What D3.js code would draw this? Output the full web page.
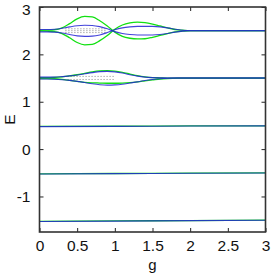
<!DOCTYPE html>
<html><head><meta charset="utf-8">
<script src="https://cdn.jsdelivr.net/npm/d3@7"></script>
<style>html,body{margin:0;padding:0;background:#fff;}svg{display:block;}</style>
</head><body>
<script>
// ---- data ----
const xTicks = [0, 0.5, 1, 1.5, 2, 2.5, 3];
const xTickLabels = ["0", "0.5", "1", "1.5", "2", "2.5", "3"];
const yTicks = [-1, 0, 1, 2, 3];
const yTickLabels = ["-1", "0", "1", "2", "3"];

const gGrid = [0,0.1,0.2,0.3,0.4,0.5,0.6,0.7,0.8,0.9,1.0,1.1,1.2,1.3,1.4,1.5,1.6,1.7,1.8,1.9,2.0,2.5,3.0];

// E ~ 2.5 group
const green25a = [2.505,2.51,2.52,2.56,2.65,2.75,2.80,2.79,2.71,2.60,2.47,2.38,2.34,2.325,2.33,2.36,2.40,2.44,2.475,2.49,2.50,2.50,2.50];
const green25b = [2.495,2.49,2.48,2.44,2.35,2.25,2.20,2.21,2.29,2.40,2.53,2.62,2.665,2.68,2.67,2.64,2.60,2.56,2.525,2.51,2.50,2.50,2.50];
const blue25a  = [2.525,2.525,2.53,2.55,2.58,2.605,2.615,2.61,2.585,2.54,2.48,2.44,2.42,2.41,2.41,2.41,2.42,2.44,2.47,2.49,2.50,2.50,2.50];
const blue25b  = [2.475,2.475,2.47,2.45,2.42,2.39,2.38,2.385,2.41,2.46,2.52,2.56,2.58,2.59,2.59,2.59,2.58,2.56,2.53,2.51,2.50,2.50,2.50];

// E ~ 1.5 group
const green15a = [1.51,1.51,1.515,1.525,1.545,1.57,1.60,1.63,1.65,1.655,1.645,1.62,1.585,1.55,1.525,1.51,1.505,1.50,1.50,1.50,1.50,1.50,1.50];
const blue15a  = [1.52,1.52,1.52,1.53,1.545,1.565,1.59,1.615,1.635,1.64,1.63,1.605,1.57,1.54,1.52,1.51,1.505,1.50,1.50,1.50,1.50,1.50,1.50];
const green15b = [1.49,1.49,1.485,1.47,1.45,1.43,1.41,1.40,1.395,1.39,1.39,1.395,1.405,1.42,1.44,1.46,1.48,1.49,1.495,1.50,1.50,1.50,1.50];
const blue15b  = [1.48,1.48,1.475,1.465,1.45,1.43,1.405,1.38,1.36,1.35,1.355,1.37,1.395,1.42,1.45,1.47,1.485,1.495,1.50,1.50,1.50,1.50,1.50];

// lower levels
const gLow = [0, 1, 2, 3];
const blue05  = [0.475, 0.48, 0.487, 0.49];
const green05 = [0.478, 0.483, 0.489, 0.492];
const blueM05  = [-0.525, -0.518, -0.51, -0.505];
const greenM05 = [-0.522, -0.515, -0.508, -0.503];
const blueM15  = [-1.528, -1.52, -1.51, -1.503];
const greenM15 = [-1.525, -1.517, -1.508, -1.501];

// dotted reference lines
const dot25g = [0.34, 0.88];
const dot25E = [2.54, 2.50, 2.46];
const dot15g = [0.37, 1.0];
const dot15E = [1.535, 1.47];

// ---- drawing ----
const W = 274, H = 274;
const svg = d3.select("body").append("svg").attr("width", W).attr("height", H);
const x = d3.scaleLinear().domain([0, 3]).range([39.5, 265.5]);
const y = d3.scaleLinear().domain([-1.75, 3]).range([232, 7]);

const line = d3.line().x(d => x(d[0])).y(d => y(d[1])).curve(d3.curveMonotoneX);
const zip = (gs, es) => gs.map((g, i) => [g, es[i]]);

// dotted
const dots = svg.append("g");
dot25E.forEach(e => dots.append("path").attr("d", d3.line()(dot25g.map(g => [x(g), y(e)])))
  .attr("stroke", "#b0b0b0").attr("stroke-width", 1).attr("stroke-dasharray", "1.5,1.5").attr("fill", "none"));
dot15E.forEach(e => dots.append("path").attr("d", d3.line()(dot15g.map(g => [x(g), y(e)])))
  .attr("stroke", "#b0b0b0").attr("stroke-width", 1).attr("stroke-dasharray", "1.5,1.5").attr("fill", "none"));

const GREEN = "#11e011", BLUE = "#2222d4";
const greens = [zip(gGrid, green25a), zip(gGrid, green25b), zip(gGrid, green15a), zip(gGrid, green15b),
  zip(gLow, green05), zip(gLow, greenM05), zip(gLow, greenM15)];
const blues = [zip(gGrid, blue25a), zip(gGrid, blue25b), zip(gGrid, blue15a), zip(gGrid, blue15b),
  zip(gLow, blue05), zip(gLow, blueM05), zip(gLow, blueM15)];
svg.append("g").selectAll("path").data(greens).join("path").attr("d", line)
  .attr("fill", "none").attr("stroke", GREEN).attr("stroke-width", 1.3);
svg.append("g").selectAll("path").data(blues).join("path").attr("d", line)
  .attr("fill", "none").attr("stroke", BLUE).attr("stroke-width", 1.1).attr("stroke-opacity", 0.85);

// axes (ticks inward, mirrored)
const font = "'Liberation Sans', Arial, sans-serif";
const ax = svg.append("g");
const axBottom = d3.axisBottom(x).tickValues(xTicks).tickFormat((d, i) => xTickLabels[i]).tickSizeInner(-4).tickSizeOuter(0).tickPadding(8);
const axTop = d3.axisTop(x).tickValues(xTicks).tickFormat("").tickSizeInner(-4).tickSizeOuter(0);
const axLeft = d3.axisLeft(y).tickValues(yTicks).tickFormat((d, i) => yTickLabels[i]).tickSizeInner(-4).tickSizeOuter(0).tickPadding(9);
const axRight = d3.axisRight(y).tickValues(yTicks).tickFormat("").tickSizeInner(-4).tickSizeOuter(0);
[ [axBottom, `translate(0,${y(-1.75)})`], [axTop, `translate(0,${y(3)})`],
  [axLeft, `translate(${x(0)},0)`], [axRight, `translate(${x(3)},0)`] ].forEach(([a, t]) => {
  const gA = ax.append("g").attr("transform", t).call(a);
  gA.select(".domain").remove();
  gA.selectAll(".tick line").attr("stroke", "#222").attr("stroke-width", 1);
  gA.selectAll("text").attr("font-family", font).attr("font-size", 15.5).attr("fill", "#111");
  // keep the top-most y label inside the picture
  gA.selectAll(".tick text").filter(d => d === 3 && a === axLeft).attr("dy", "0.48em");
});
ax.append("rect").attr("x", x(0)).attr("y", y(3)).attr("width", x(3) - x(0)).attr("height", y(-1.75) - y(3))
  .attr("fill", "none").attr("stroke", "#333").attr("stroke-width", 1.6);

svg.append("text").attr("x", (x(0) + x(3)) / 2).attr("y", 270).attr("text-anchor", "middle")
  .attr("font-family", font).attr("font-size", 15).attr("fill", "#111").text("g");
svg.append("text").attr("transform", `translate(15,${(y(3) + y(-1.75)) / 2}) rotate(-90)`).attr("text-anchor", "middle")
  .attr("font-family", font).attr("font-size", 15.5).attr("fill", "#111").text("E");
</script>
</body></html>
